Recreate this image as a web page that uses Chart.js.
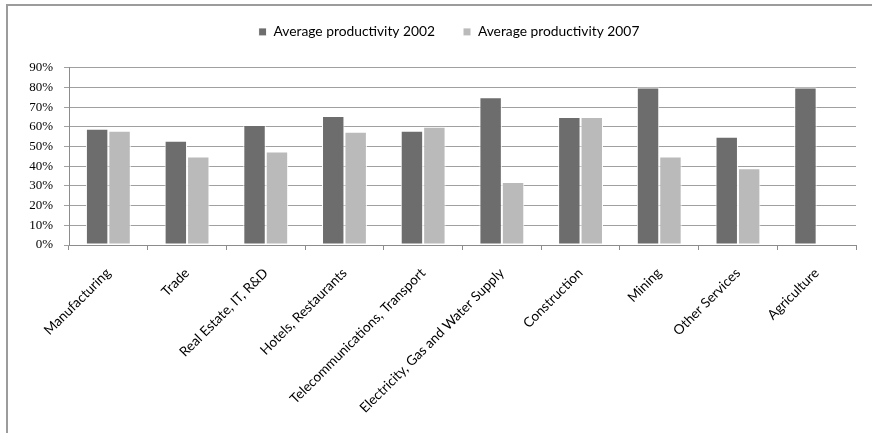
<!DOCTYPE html>
<html>
<head>
<meta charset="utf-8">
<script src="https://cdn.jsdelivr.net/npm/chart.js@4.4.1/dist/chart.umd.min.js"></script>
<style>
  html, body { margin: 0; padding: 0; background: #ffffff; overflow: hidden; }
  #wrap { position: relative; width: 872px; height: 433px; }
  #frame { position: absolute; left: 6px; top: 4px; width: 880px; height: 440px;
           border-top: 2px solid #9c9c9c; border-left: 2px solid #9c9c9c; pointer-events: none; }
  canvas { position: absolute; left: 0; top: 0; }
</style>
</head>
<body>
<div id="wrap">
  <canvas id="c" width="872" height="433"></canvas>
  <div id="frame"></div>
</div>
<script>
const categories = [
  "Manufacturing", "Trade", "Real Estate, IT, R&D", "Hotels, Restaurants",
  "Telecommunications, Transport", "Electricity, Gas and Water Supply",
  "Construction", "Mining", "Other Services", "Agriculture"
];
const seriesNames = ["Average productivity 2002", "Average productivity 2007"];
const productivity2002 = [0.59, 0.53, 0.61, 0.655, 0.58, 0.75, 0.65, 0.80, 0.55, 0.80];
const productivity2007 = [0.58, 0.45, 0.475, 0.575, 0.60, 0.32, 0.65, 0.45, 0.39, null];
const yTicks = [0, 0.1, 0.2, 0.3, 0.4, 0.5, 0.6, 0.7, 0.8, 0.9];

const legendGap = {
  id: 'legendGap',
  afterInit(chart) {
    const lg = chart.legend;
    if (!lg) return;
    const origFit = lg.fit;
    lg.fit = function () { origFit.call(this); this.height += 19; };
  },
  afterLayout(chart) {
    const lg = chart.legend;
    if (!lg) return;
    lg.left += 21;
    lg.right += 21;
  }
};

const ctx = document.getElementById('c').getContext('2d');
new Chart(ctx, {
  type: 'bar',
  data: {
    labels: categories,
    datasets: [
      { label: seriesNames[0], data: productivity2002, backgroundColor: '#6d6d6d',
        borderColor: '#ffffff', borderWidth: 1, borderSkipped: false },
      { label: seriesNames[1], data: productivity2007, backgroundColor: '#bababa',
        borderColor: '#ffffff', borderWidth: 1, borderSkipped: false }
    ]
  },
  plugins: [legendGap],
  options: {
    responsive: false,
    animation: false,
    layout: { padding: { left: 0, right: 16, top: -3, bottom: 0 } },
    datasets: { bar: { categoryPercentage: 0.57, barPercentage: 1.0 } },
    plugins: {
      legend: {
        position: 'top',
        labels: {
          boxWidth: 8, boxHeight: 8, padding: 28,
          color: '#000000',
          font: { family: 'Lato', size: 13.8 }
        }
      },
      tooltip: { enabled: false }
    },
    scales: {
      x: {
        offset: true,
        grid: { display: true, drawOnChartArea: false, offset: true, tickLength: 5, color: '#8c8c8c' },
        border: { display: true, color: '#8c8c8c', width: 1 },
        ticks: {
          minRotation: 45, maxRotation: 45, autoSkip: false, padding: 15,
          color: '#000000',
          font: { family: 'Lato', size: 13.6 }
        },
        afterFit: (scale) => { scale.height = 188; }
      },
      y: {
        min: 0, max: 0.9,
        afterBuildTicks: (scale) => { scale.ticks = yTicks.map(v => ({ value: v })); },
        grid: { color: '#a0a0a0', lineWidth: 1, tickLength: 5 },
        border: { display: true, color: '#8c8c8c', width: 1 },
        ticks: {
          padding: 11,
          color: '#000000',
          font: { family: 'Liberation Serif', size: 13 },
          callback: (v) => Math.round(v * 100) + '%'
        },
        afterFit: (scale) => { scale.width = 69; }
      }
    }
  }
});
</script>
</body>
</html>
